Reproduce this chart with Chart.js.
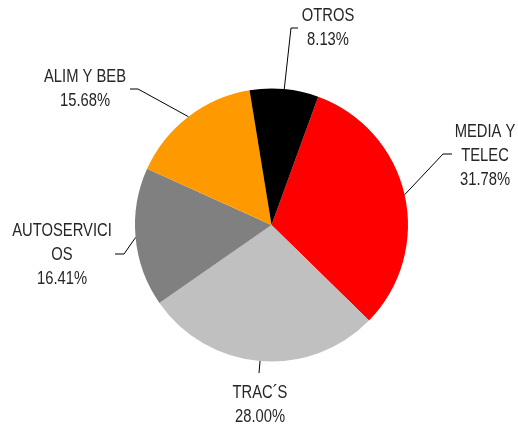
<!DOCTYPE html>
<html>
<head>
<meta charset="utf-8">
<script src="https://cdn.jsdelivr.net/npm/chart.js@4.4.0/dist/chart.umd.min.js"></script>
<style>
  html, body { margin: 0; padding: 0; background: #fff; }
  #wrap { width: 518px; height: 425px; }
</style>
</head>
<body>
<div id="wrap"><canvas id="pieChart"></canvas></div>
<script>
// data
const categories = ['MEDIA Y TELEC', 'TRAC´S', 'AUTOSERVICIOS', 'ALIM Y BEB', 'OTROS'];
const labelLines = [['MEDIA Y', 'TELEC'], ['TRAC´S'], ['AUTOSERVICI', 'OS'], ['ALIM Y BEB'], ['OTROS']];
const shares = [31.78, 28.00, 16.41, 15.68, 8.13];
const sliceColors = ['#ff0000', '#c0c0c0', '#808080', '#ff9900', '#000000'];

// label placement: text centre (x, first line y) and leader elbow/end points
const labelPlacement = [
    { x: 485, y: 132, line: [[443, 154], [452, 154]] },
    { x: 260, y: 393, line: [[259, 373]] },
    { x: 62, y: 231, line: [[124, 254], [115, 254]] },
    { x: 85, y: 77, line: [[138, 89], [130, 89]] },
    { x: 328, y: 16, line: [[291, 28], [298, 28]] }
];

// no narrow font installed, so squeeze the sans horizontally (Arial Narrow look)
const NARROW = 0.82;

const outsideLabels = {
    id: 'outsideLabels',
    afterDatasetsDraw(chart) {
        const ctx = chart.ctx;
        const arcs = chart.getDatasetMeta(0).data;
        const total = shares.reduce((a, b) => a + b, 0);
        ctx.save();
        arcs.forEach((arc, i) => {
            const mid = (arc.startAngle + arc.endAngle) / 2;
            const sx = arc.x + Math.cos(mid) * arc.outerRadius;
            const sy = arc.y + Math.sin(mid) * arc.outerRadius;
            const p = labelPlacement[i];

            ctx.strokeStyle = '#000';
            ctx.lineWidth = 1;
            ctx.beginPath();
            ctx.moveTo(sx, sy);
            p.line.forEach(pt => ctx.lineTo(pt[0], pt[1]));
            ctx.stroke();

            const lines = labelLines[i].concat([(shares[i] / total * 100).toFixed(2) + '%']);
            ctx.fillStyle = '#262626';
            ctx.font = '18px "Liberation Sans", Arial, sans-serif';
            ctx.textAlign = 'center';
            ctx.textBaseline = 'middle';
            lines.forEach((t, k) => {
                ctx.save();
                ctx.translate(p.x, p.y + k * 24);
                ctx.scale(NARROW, 1);
                ctx.fillText(t, 0, 0);
                ctx.restore();
            });
        });
        ctx.restore();
    }
};

new Chart(document.getElementById('pieChart'), {
    type: 'pie',
    data: {
        labels: categories,
        datasets: [{
            data: shares,
            backgroundColor: sliceColors,
            borderWidth: 0
        }]
    },
    options: {
        responsive: true,
        maintainAspectRatio: false,
        animation: false,
        rotation: 20,
        layout: { padding: { top: 88, bottom: 63, left: 135, right: 110 } },
        plugins: {
            legend: { display: false },
            tooltip: { enabled: false }
        }
    },
    plugins: [outsideLabels]
});
</script>
</body>
</html>
